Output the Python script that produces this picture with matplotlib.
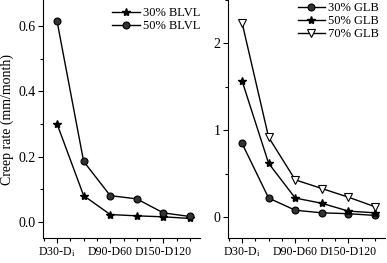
import matplotlib.pyplot as plt
from matplotlib.ticker import MultipleLocator, FixedLocator

plt.rcParams['font.family'] = ['Liberation Serif', 'DejaVu Serif']
plt.rcParams['mathtext.fontset'] = 'stix'

x = [1, 2, 3, 4, 5, 6]
tick_pos = [1, 3, 5]
tick_labels = ['D30-D$_\\mathregular{i}$', 'D90-D60', 'D150-D120']

blvl30 = [0.30, 0.08, 0.022, 0.018, 0.015, 0.010]
blvl50 = [0.615, 0.185, 0.080, 0.070, 0.027, 0.016]

glb30 = [0.85, 0.22, 0.08, 0.05, 0.04, 0.02]
glb50 = [1.57, 0.62, 0.22, 0.16, 0.07, 0.05]
glb70 = [2.24, 0.92, 0.43, 0.33, 0.23, 0.12]

fig = plt.figure(figsize=(3.87, 2.63), dpi=100)
ax1 = fig.add_axes([0.111, 0.095, 0.406, 0.905])
ax2 = fig.add_axes([0.589, 0.095, 0.406, 0.905])

lw = 1.0
circ = dict(marker='o', ms=5, mfc='#333333', mec='black', mew=0.8)
star = dict(marker='*', ms=6, mfc='black', mec='black')
tri = dict(marker='v', ms=6, mfc='white', mec='black', mew=0.8)

ax1.plot(x, blvl30, color='black', lw=lw, label='30% BLVL', **star)
ax1.plot(x, blvl50, color='black', lw=lw, label='50% BLVL', **circ)
ax1.set_ylim(-0.05, 0.68)
ax1.yaxis.set_major_locator(MultipleLocator(0.2))
ax1.yaxis.set_minor_locator(MultipleLocator(0.1))
ax1.set_ylabel('Creep rate (mm/month)', fontsize=10, labelpad=3)

ax2.plot(x, glb30, color='black', lw=lw, label='30% GLB', **circ)
ax2.plot(x, glb50, color='black', lw=lw, label='50% GLB', **star)
ax2.plot(x, glb70, color='black', lw=lw, label='70% GLB', **tri)
ax2.set_ylim(-0.24, 2.5)
ax2.yaxis.set_major_locator(MultipleLocator(1))
ax2.yaxis.set_minor_locator(MultipleLocator(0.5))

# легенды: положение подобрано по картинке
anchors = {ax1: (1.0, 0.971), ax2: (0.962, 0.992)}

for ax in (ax1, ax2):
    ax.set_xlim(0.47, 6.38)
    ax.xaxis.set_major_locator(FixedLocator(tick_pos))
    ax.set_xticklabels(tick_labels, fontsize=8.6)
    ax.xaxis.set_minor_locator(MultipleLocator(0.5))
    ax.spines['top'].set_visible(False)
    ax.spines['right'].set_visible(False)
    ax.tick_params(axis='y', labelsize=10)
    ax.tick_params(which='both', direction='out', width=0.8)
    ax.tick_params(which='major', length=3.5, pad=2)
    ax.tick_params(which='minor', length=2)
    ax.legend(loc='upper right', frameon=False, fontsize=9, handlelength=2.2,
              handletextpad=0.25, labelspacing=0.1, borderpad=0, borderaxespad=0,
              bbox_to_anchor=anchors[ax])

fig.savefig('out.png', dpi=100)
